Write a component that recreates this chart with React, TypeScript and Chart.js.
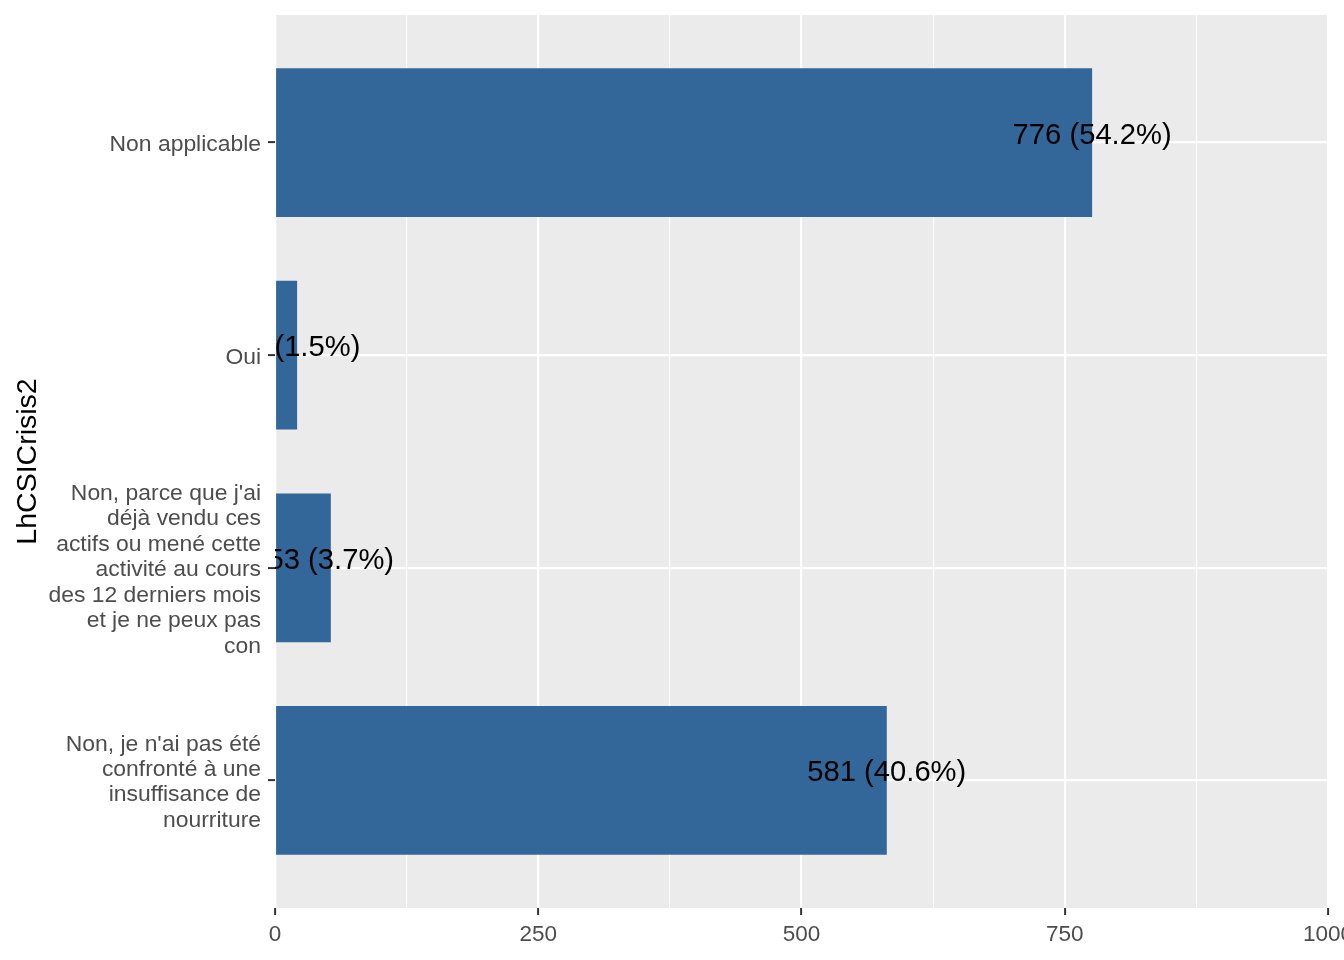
import React, { useEffect, useRef } from "react";
import { Chart, registerables, Plugin } from "chart.js";

Chart.register(...registerables);

// categories from top to bottom
const categories: string[][] = [
  ["Non applicable"],
  ["Oui"],
  [
    "Non, parce que j'ai",
    "déjà vendu ces",
    "actifs ou mené cette",
    "activité au cours",
    "des 12 derniers mois",
    "et je ne peux pas",
    "con",
  ],
  ["Non, je n'ai pas été", "confronté à une", "insuffisance de", "nourriture"],
];
const counts: number[] = [776, 21, 53, 581];
const xTicks: number[] = [0, 250, 500, 750, 1000];
const axisTitle = "LhCSICrisis2";

const total = counts.reduce((a, b) => a + b, 0);

// grey panel behind the plot, like ggplot's theme_gray
const panelBackground: Plugin<"bar"> = {
  id: "panelBackground",
  beforeDraw(chart) {
    const { ctx, chartArea } = chart;
    ctx.save();
    ctx.fillStyle = "#EBEBEB";
    ctx.fillRect(chartArea.left, chartArea.top, chartArea.right - chartArea.left, chartArea.bottom - chartArea.top);
    ctx.restore();
  },
};

// count (pct) labels centred on the bar ends, clipped to the panel
const barLabels: Plugin<"bar"> = {
  id: "barLabels",
  afterDatasetsDraw(chart) {
    const { ctx, chartArea } = chart;
    const meta = chart.getDatasetMeta(0);
    ctx.save();
    ctx.beginPath();
    ctx.rect(chartArea.left, chartArea.top, chartArea.right - chartArea.left, chartArea.bottom - chartArea.top);
    ctx.clip();
    ctx.fillStyle = "#000000";
    ctx.font = "29.2px 'Liberation Sans', Arial, sans-serif";
    ctx.textAlign = "center";
    ctx.textBaseline = "middle";
    meta.data.forEach((bar: any, i: number) => {
      const pct = ((counts[i] / total) * 100).toFixed(1);
      ctx.fillText(`${counts[i]} (${pct}%)`, bar.x, bar.y - 7);
    });
    ctx.restore();
  },
};

export default function App() {
  const chartRef = useRef<HTMLCanvasElement | null>(null);

  useEffect(() => {
    document.body.style.margin = "0";
    if (!chartRef.current) return;

    const chart = new Chart(chartRef.current, {
      type: "bar",
      data: {
        datasets: [
          {
            data: counts.map((v, i) => ({ x: v, y: i })) as any,
            backgroundColor: "#336699",
            categoryPercentage: 1,
            barPercentage: 0.7,
          },
        ],
      },
      options: {
        indexAxis: "y",
        animation: false,
        responsive: false,
        maintainAspectRatio: false,
        layout: { padding: { top: 15, right: 16, left: 0, bottom: 0 } },
        plugins: {
          legend: { display: false },
          tooltip: { enabled: false },
        },
        scales: {
          x: {
            type: "linear",
            min: 0,
            max: 1000,
            afterBuildTicks: (scale: any) => {
              const t = [];
              for (let v = 0; v <= 1000; v += 125) t.push({ value: v });
              scale.ticks = t;
            },
            afterFit: (scale: any) => {
              scale.height = 52;
              scale.paddingLeft = 0;
              scale.paddingRight = 0;
            },
            border: { display: false },
            grid: {
              color: "#FFFFFF",
              lineWidth: (c: any) => (xTicks.includes(c.tick?.value) ? 2.2 : 1.1),
              tickColor: (c: any) => (xTicks.includes(c.tick?.value) ? "#333333" : "rgba(0,0,0,0)"),
              tickLength: 7,
              tickWidth: 2,
            },
            ticks: {
              color: "#4D4D4D",
              font: { family: "'Liberation Sans', Arial, sans-serif", size: 22.5 },
              padding: 6,
              maxRotation: 0,
              autoSkip: false,
              callback: (v: any) => (xTicks.includes(v) ? String(v) : ""),
            },
          },
          y: {
            type: "linear",
            min: -0.6,
            max: categories.length - 1 + 0.6,
            reverse: true,
            offset: false,
            afterBuildTicks: (scale: any) => {
              scale.ticks = categories.map((_, i) => ({ value: i }));
            },
            afterFit: (scale: any) => {
              scale.width = 275;
              scale.paddingTop = 0;
              scale.paddingBottom = 0;
            },
            border: { display: false },
            grid: {
              offset: false,
              color: "#FFFFFF",
              lineWidth: 2.2,
              tickColor: "#333333",
              tickLength: 7,
              tickWidth: 2,
            },
            ticks: {
              color: "#4D4D4D",
              font: { family: "'Liberation Sans', Arial, sans-serif", size: 22.9, lineHeight: 1.113 },
              padding: 7,
              labelOffset: 2,
              autoSkip: false,
              callback: (v: any) => categories[v] ?? "",
            },
            title: {
              display: true,
              text: axisTitle,
              color: "#000000",
              font: { family: "'Liberation Sans', Arial, sans-serif", size: 28.5 },
              padding: { top: 11, bottom: 0 },
            },
          },
        },
      },
      plugins: [panelBackground, barLabels],
    });

    return () => {
      chart.destroy();
    };
  }, []);

  return (
    <div style={{ width: 1344, height: 960, overflow: "hidden", position: "relative" }}>
      <canvas ref={chartRef} width={1344} height={960} style={{ display: "block" }} />
    </div>
  );
}
